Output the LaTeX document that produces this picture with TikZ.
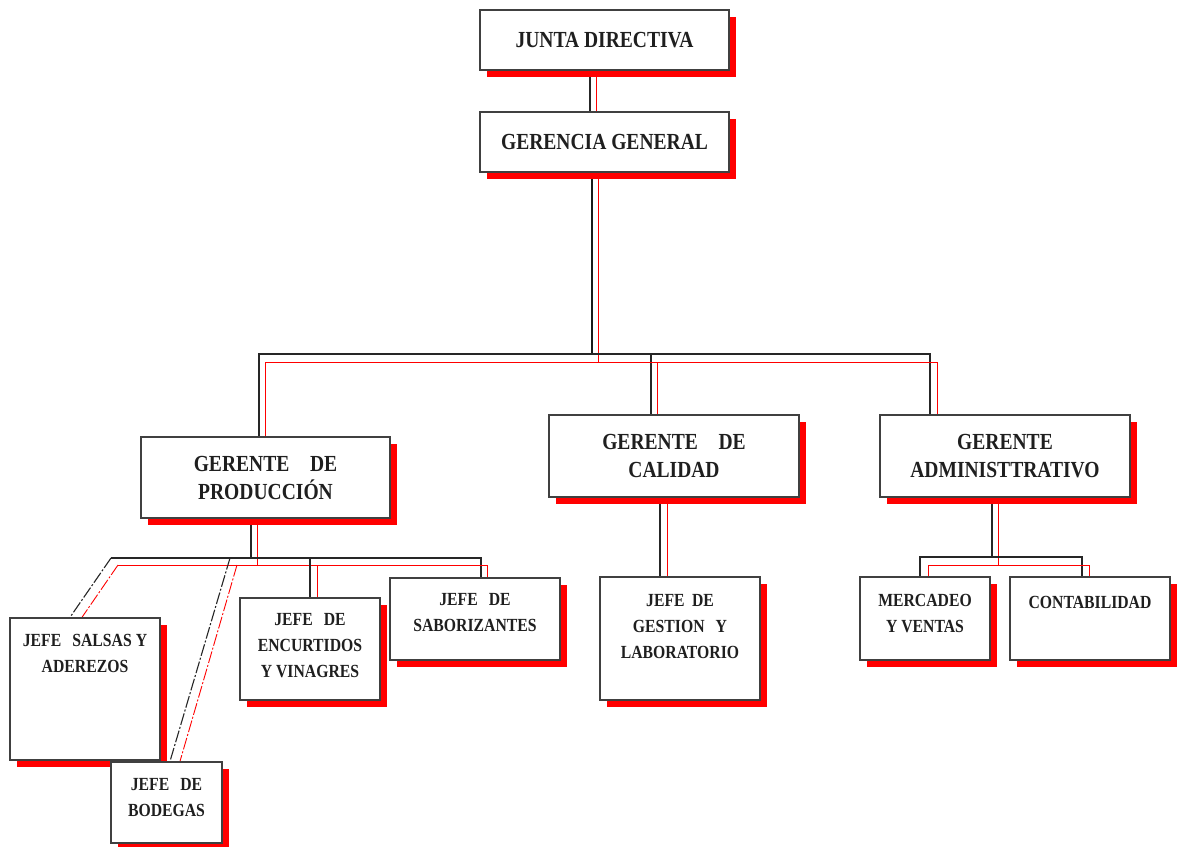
\documentclass[tikz,border=0pt]{standalone}
\usepackage{fontspec}
\setmainfont{Liberation Serif}[FakeStretch=0.85]
\usetikzlibrary{shadows,backgrounds}
\begin{document}
\begin{tikzpicture}[x=1pt,y=-1pt,
  box/.style={draw=black!75, line width=1.4pt, fill=white, inner sep=0pt,
    general shadow={fill=red, shadow xshift=7pt, shadow yshift=-7pt}},
  big/.style={font=\fontsize{23}{28}\selectfont\bfseries, align=center, text=black!88},
  small/.style={font=\fontsize{18.5}{26}\selectfont\bfseries, align=center, inner sep=0pt, text=black!88},
  blk/.style={draw=black!85, line width=1.1pt},
  blkthick/.style={draw=black!90, line width=1.8pt},
  redl/.style={draw=red, line width=0.9pt},
  blkd/.style={blk, dash pattern=on 12pt off 2pt on 2pt off 2pt},
  redd/.style={redl, dash pattern=on 12pt off 2pt on 2pt off 2pt}]
\useasboundingbox (0,0) rectangle (1177,846);

% ---------- boxes ----------
\node[box, big, minimum width=249pt, minimum height=60pt] (jd) at (604.5,40) {JUNTA DIRECTIVA};
\node[box, big, minimum width=249pt, minimum height=60pt] (gg) at (604.5,142) {GERENCIA GENERAL};
\node[box, big, minimum width=249pt, minimum height=81pt] (gp) at (265.5,477.5) {GERENTE\hspace{0.9em}DE\\PRODUCCIÓN};
\node[box, big, minimum width=250pt, minimum height=82pt] (gc) at (674,456) {GERENTE\hspace{0.9em}DE\\CALIDAD};
\node[box, big, minimum width=250pt, minimum height=82pt] (ga) at (1005,456) {GERENTE\\ADMINISTTRATIVO};

\node[box, minimum width=150pt, minimum height=142pt] (js) at (85,689) {};
\node[box, minimum width=111pt, minimum height=81pt] (jb) at (166.5,802.5) {};
\node[box, minimum width=140pt, minimum height=102pt] (je) at (310,649) {};
\node[box, minimum width=170pt, minimum height=82pt] (jsab) at (475,619) {};
\node[box, minimum width=160pt, minimum height=123pt] (jg) at (680,638.5) {};
\node[box, minimum width=130pt, minimum height=83pt] (jm) at (925,618.5) {};
\node[box, minimum width=160pt, minimum height=83pt] (jc) at (1090,618.5) {};

\node[small, anchor=north] (jsT) at ([yshift=-17pt]js.north) {JEFE\hspace{0.6em}SALSAS Y\\ADEREZOS};
\node[small, anchor=north] (jbT) at ([yshift=-17pt]jb.north) {JEFE\hspace{0.6em}DE\\BODEGAS};
\node[small, anchor=north] (jeT) at ([yshift=-16pt]je.north) {JEFE\hspace{0.6em}DE\\ENCURTIDOS\\Y VINAGRES};
\node[small, anchor=north] (jsabT) at ([yshift=-16pt]jsab.north) {JEFE\hspace{0.6em}DE\\SABORIZANTES};
\node[small, anchor=north] (jgT) at ([yshift=-18pt]jg.north) {JEFE\hspace{0.4em}DE\\GESTION\hspace{0.6em}Y\\LABORATORIO};
\node[small, anchor=north] (jmT) at ([yshift=-18pt]jm.north) {MERCADEO\\Y VENTAS};
\node[small, anchor=north] (jcT) at ([yshift=-20pt]jc.north) {CONTABILIDAD};

% ---------- junction coordinates ----------
\coordinate (cjb) at (590,0);   \coordinate (cjr) at (596,0);
\coordinate (tb) at (592,354);  \coordinate (tr) at (598,362);
\coordinate (bL) at (259,354);  \coordinate (bM) at (651,354);  \coordinate (bR) at (930,354);
\coordinate (rL) at (265,362);  \coordinate (rM) at (657,362);  \coordinate (rR) at (937,362);
\coordinate (pb) at (251,558);  \coordinate (pr) at (257,565);
\coordinate (pbL) at (111,558); \coordinate (pbR) at (481,558);
\coordinate (prL) at (118,565); \coordinate (prR) at (487,565);
\coordinate (pbB) at (230,558); \coordinate (prB) at (237,565);
\coordinate (pbE) at (310,558); \coordinate (prE) at (317,565);
\coordinate (cb) at (660,0);    \coordinate (cr) at (667,0);
\coordinate (ab) at (992,557);  \coordinate (ar) at (998,565);
\coordinate (abL) at (920,557); \coordinate (abR) at (1082,557);
\coordinate (arL) at (928,565); \coordinate (arR) at (1089,565);
\coordinate (sb) at (70,0);     \coordinate (sr) at (82,0);
\coordinate (bb) at (170,0);    \coordinate (br) at (180,0);

% ---------- connectors (behind boxes) ----------
\begin{scope}[on background layer]
\fill[white] (0,0) rectangle (1177,846);
\draw[blk]  (jd.south -| cjb) -- (gg.north -| cjb);
\draw[redl] (jd.south -| cjr) -- (gg.north -| cjr);
\draw[blkthick] (gg.south -| tb) -- (tb);
\draw[redl] (gg.south -| tr) -- (tr);
\draw[blk]  (gp.north -| bL) -- (bL) -- (bR) -- (ga.north -| bR);
\draw[blk]  (bM) -- (gc.north -| bM);
\draw[redl] (gp.north -| rL) -- (rL) -- (rR) -- (ga.north -| rR);
\draw[redl] (rM) -- (gc.north -| rM);

\draw[blk]  (gp.south -| pb) -- (pb);
\draw[redl] (gp.south -| pr) -- (pr);
\draw[blk]  (pbL) -- (pbR) -- (jsab.north -| pbR);
\draw[redl] (prL) -- (prR) -- (jsab.north -| prR);
\draw[blkd] (pbL) -- (js.north -| sb);
\draw[redd] (prL) -- (js.north -| sr);
\draw[blkd] (pbB) -- (jb.north -| bb);
\draw[redd] (prB) -- (jb.north -| br);
\draw[blk]  (pbE) -- (je.north -| pbE);
\draw[redl] (prE) -- (je.north -| prE);

\draw[blk]  (gc.south -| cb) -- (jg.north -| cb);
\draw[redl] (gc.south -| cr) -- (jg.north -| cr);

\draw[blk]  (ga.south -| ab) -- (ab);
\draw[redl] (ga.south -| ar) -- (ar);
\draw[blk]  (jm.north -| abL) -- (abL) -- (abR) -- (jc.north -| abR);
\draw[redl] (jm.north -| arL) -- (arL) -- (arR) -- (jc.north -| arR);
\end{scope}
\end{tikzpicture}
\end{document}
